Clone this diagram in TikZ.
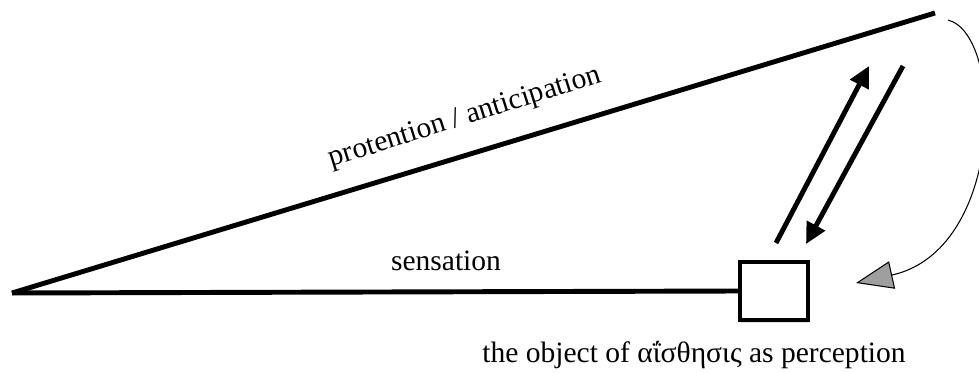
\documentclass[tikz,border=0pt]{standalone}
\usepackage{fontspec}
\setmainfont{Liberation Serif}
\usetikzlibrary{arrows.meta,calc,positioning,shadows}

\tikzset{
  mainline/.style={line width=2.8pt},
  duoarrow/.style={line width=2.8pt,-{Triangle[length=0.42cm,width=0.4cm]}},
  objbox/.style={draw,line width=2pt,fill=white,minimum width=1.36cm,minimum height=1.16cm,
    drop shadow={opacity=0.25,shadow xshift=0.5pt,shadow yshift=-1.5pt}},
  lbl/.style={font=\fontsize{16.8}{19}\selectfont}
}

\begin{document}
\begin{tikzpicture}[x=0.02cm,y=-0.02cm]
  \useasboundingbox (0,0) rectangle (979,372);
  \coordinate (apex) at (12,293);
  \coordinate (far) at (935,13);
  \node[objbox] (obj) at (774,291) {};
  \draw[mainline] (apex) -- (far);
  \draw[mainline] (apex) -- (obj.west);
  % the two arrows between object and anticipation
  \coordinate (upfrom) at (776,243);
  \coordinate (upto) at (869,66);
  \coordinate (dnfrom) at (903,66);
  \coordinate (dnto) at (806,244);
  \draw[duoarrow] (upfrom) -- (upto);
  \draw[duoarrow] (dnfrom) -- (dnto);
  % return arc
  \coordinate (arcfrom) at (948,20);
  \coordinate (arcto) at (856,283);
  \draw[line width=0.6pt,-{Triangle[length=0.74cm,width=0.56cm,fill=gray!75,line width=0.6pt]}]
    (arcfrom) .. controls (1005,35) and (1005,250) .. (arcto);
  \node[lbl,rotate=17.5] (prot) at (465,118) {protention / anticipation};
  \node[lbl] (sens) at (446,261) {sensation};
  \node[lbl] (objtxt) at (694,355) {the object of αΐσθησις as perception};
\end{tikzpicture}
\end{document}
